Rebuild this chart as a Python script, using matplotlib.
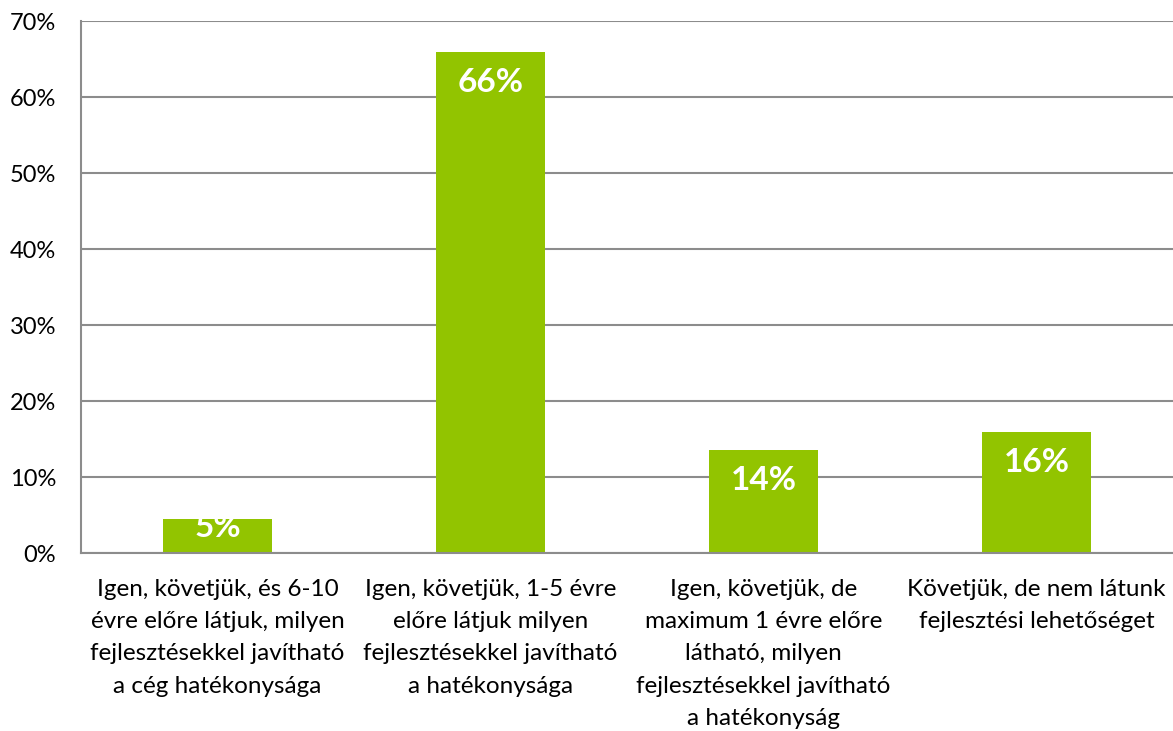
import matplotlib
matplotlib.use("Agg")
import matplotlib.pyplot as plt
from matplotlib.ticker import PercentFormatter

categories = [
    "Igen, követjük, és 6-10\névre előre látjuk, milyen\nfejlesztésekkel javítható\na cég hatékonysága",
    "Igen, követjük, 1-5 évre\nelőre látjuk milyen\nfejlesztésekkel javítható\na hatékonysága",
    "Igen, követjük, de\nmaximum 1 évre előre\nlátható, milyen\nfejlesztésekkel javítható\na hatékonyság",
    "Követjük, de nem látunk\nfejlesztési lehetőséget",
]
values = [4.5, 65.9, 13.5, 15.9]
labels = ["5%", "66%", "14%", "16%"]
yticks = [0, 10, 20, 30, 40, 50, 60, 70]

plt.rcParams['font.family'] = ['Lato', 'DejaVu Sans']

fig = plt.figure(figsize=(11.73, 7.31), dpi=100)
ax = fig.add_axes([81/1173, 1 - 553/731, 1 - 81/1173, (553 - 21)/731])

green = "#92C400"
grid_c = "#8C8C8C"
x = list(range(len(values)))
bars = ax.bar(x, values, width=0.4, color=green, zorder=3)

ax.set_xlim(-0.5, len(values) - 0.5)
ax.set_ylim(0, 70)
ax.set_yticks(yticks)
ax.yaxis.set_major_formatter(PercentFormatter(decimals=0))
ax.set_xticks(x)
ax.set_xticklabels(categories, fontsize=17.5, linespacing=1.65, color="#000000")
ax.tick_params(axis='y', length=0, pad=18, labelsize=17)
ax.tick_params(axis='x', length=0, pad=19)

ax.grid(axis='y', color=grid_c, linewidth=1.5, zorder=0)
for s in ['top', 'right']:
    ax.spines[s].set_visible(False)
for s in ['left', 'bottom']:
    ax.spines[s].set_color(grid_c)
    ax.spines[s].set_linewidth(1.5)
    ax.spines[s].set_zorder(4)

for xi, v, lab in zip(x, values, labels):
    off = -21.5 if v >= 10 else -6.5
    ax.annotate(lab, (xi, v), xytext=(0, off), textcoords='offset points',
                ha='center', va='center', color='white', fontsize=24,
                fontweight='bold', zorder=5)

fig.savefig("out.png", dpi=100)
